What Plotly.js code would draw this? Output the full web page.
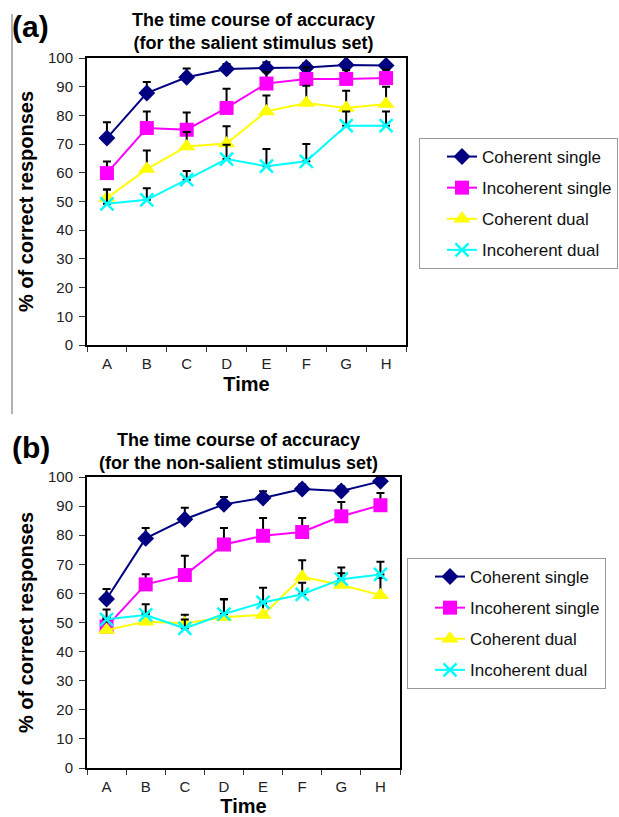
<!DOCTYPE html>
<html><head><meta charset="utf-8">
<script src="https://cdn.plot.ly/plotly-3.0.1.min.js"></script>
<style>html,body{margin:0;padding:0;background:#fff}#chart{width:619px;height:817px}</style>
</head><body><div id="chart"></div>
<script>
const categories = ['A','B','C','D','E','F','G','H'];
const seriesNames = ['Coherent single','Incoherent single','Coherent dual','Incoherent dual'];
// Panel (a): salient stimulus set
const salientCohSingle = [72.1, 87.8, 93.3, 96.2, 96.5, 96.7, 97.6, 97.4];
const salientCohSingleErr = [5.5, 3.8, 3.0, 1.7, 2.0, 1.5, 1.0, 1.0];
const salientIncSingle = [59.9, 75.6, 75.0, 82.6, 91.1, 92.7, 92.7, 93.0];
const salientIncSingleErr = [4.0, 5.8, 6.0, 6.7, 4.0, 4.0, 3.0, 3.0];
const salientCohDual = [51.2, 61.3, 69.2, 70.2, 81.4, 84.3, 82.6, 84.0];
const salientCohDualErr = [3.0, 6.5, 5.0, 6.0, 5.5, 6.0, 6.0, 6.0];
const salientIncDual = [49.2, 50.6, 57.6, 64.8, 62.3, 64.0, 76.4, 76.4];
const salientIncDualErr = [5.0, 4.0, 3.0, 5.0, 6.0, 6.0, 5.0, 5.0];
// Panel (b): non-salient stimulus set
const nonCohSingle = [58.1, 78.9, 85.5, 90.6, 92.8, 95.9, 95.2, 98.5];
const nonCohSingleErr = [3.4, 3.6, 3.9, 2.5, 2.3, 1.5, 1.5, 1.0];
const nonIncSingle = [48.6, 63.1, 66.3, 76.8, 79.8, 81.1, 86.5, 90.3];
const nonIncSingleErr = [3.0, 3.5, 6.6, 5.7, 6.1, 4.8, 4.9, 4.2];
const nonCohDual = [47.4, 50.3, 49.7, 51.8, 52.6, 65.7, 62.9, 59.4];
const nonCohDualErr = [4.0, 3.0, 3.0, 6.3, 4.0, 5.7, 4.0, 6.0];
const nonIncDual = [51.1, 52.6, 48.0, 52.9, 56.9, 59.7, 64.9, 66.5];
const nonIncDualErr = [3.4, 3.7, 3.0, 5.0, 5.0, 4.0, 4.0, 4.4];

const colors = ['#000080', '#FF00FF', '#FFFF00', '#00FFFF'];
const symbols = ['diamond', 'square', 'triangle-up', 'x-thin'];
const sizes = [13, 14, 15, 13];

function mk(i, y, err, xa, ya, leg) {
  const marker = {color: colors[i], symbol: symbols[i], size: sizes[i]};
  if (symbols[i] === 'x-thin') marker.line = {color: colors[i], width: 2.5};
  return {
    x: categories, y: y, name: seriesNames[i], type: 'scatter', mode: 'lines+markers',
    xaxis: xa, yaxis: ya, legend: leg, legendgroup: leg + i,
    line: {color: colors[i], width: 2}, marker: marker,
    error_y: {type: 'data', symmetric: false, array: err, arrayminus: err.map(() => 0),
      color: '#000', thickness: 2, width: 4}
  };
}
const traces = [
  mk(0, salientCohSingle, salientCohSingleErr, 'x', 'y', 'legend'),
  mk(1, salientIncSingle, salientIncSingleErr, 'x', 'y', 'legend'),
  mk(2, salientCohDual, salientCohDualErr, 'x', 'y', 'legend'),
  mk(3, salientIncDual, salientIncDualErr, 'x', 'y', 'legend'),
  mk(0, nonCohSingle, nonCohSingleErr, 'x2', 'y2', 'legend2'),
  mk(1, nonIncSingle, nonIncSingleErr, 'x2', 'y2', 'legend2'),
  mk(2, nonCohDual, nonCohDualErr, 'x2', 'y2', 'legend2'),
  mk(3, nonIncDual, nonIncDualErr, 'x2', 'y2', 'legend2')
];

const F = 'Liberation Sans, Arial, sans-serif';
function xax(dom) {
  return {domain: dom, type: 'category', categoryarray: categories, range: [-0.5, 7.5],
    showline: true, linecolor: '#000', linewidth: 2, mirror: true, ticks: 'outside',
    tickson: 'boundaries', ticklen: 5, tickcolor: '#333', showgrid: false, zeroline: false,
    ticklabelstandoff: 4,
    tickfont: {family: F, size: 15, color: '#222'},
    title: {text: 'Time', font: {family: F, size: 20, color: '#000', weight: 'bold'}, standoff: 6}};
}
function yax(dom) {
  return {domain: dom, range: [0, 100], dtick: 10, showline: true, linecolor: '#000', linewidth: 2,
    mirror: true, ticks: 'outside', ticklen: 6, tickcolor: '#333', showgrid: false, zeroline: false,
    ticklabelstandoff: 3,
    tickfont: {family: F, size: 15, color: '#222'},
    title: {text: '% of correct responses', font: {family: F, size: 20, color: '#000', weight: 'bold'}, standoff: 9}};
}
function leg(x, y) {
  return {x: x, y: y, xanchor: 'left', yanchor: 'top', bordercolor: '#999', borderwidth: 1,
    bgcolor: '#fff', font: {family: F, size: 17, color: '#111'}, traceorder: 'grouped',
    tracegroupgap: 6, entrywidth: 260, indentation: 22, itemclick: false};
}
const layout = {
  width: 619, height: 817, margin: {l: 0, r: 0, t: 0, b: 0, autoexpand: false},
  paper_bgcolor: '#fff', plot_bgcolor: '#fff', showlegend: true,
  xaxis: xax([87/619, 406/619]), yaxis: yax([1 - 345/817, 1 - 58/817]),
  xaxis2: Object.assign(xax([87/619, 400/619]), {anchor: 'y2'}),
  yaxis2: Object.assign(yax([1 - 768/817, 1 - 477/817]), {anchor: 'x2'}),
  legend: leg(419/619, 1 - 138/817),
  legend2: leg(407/619, 1 - 558/817),
  annotations: [
    {text: '(a)', x: 10/619, y: 1 - 27/817, xref: 'paper', yref: 'paper', xanchor: 'left', yanchor: 'middle', showarrow: false, font: {family: F, size: 30, color: '#000', weight: 'bold'}},
    {text: '(b)', x: 10/619, y: 1 - 448/817, xref: 'paper', yref: 'paper', xanchor: 'left', yanchor: 'middle', showarrow: false, font: {family: F, size: 30, color: '#000', weight: 'bold'}},
    {text: 'The time course of accuracy<br>(for the salient stimulus set)', x: 253/619, y: 1 - 32/817, xref: 'paper', yref: 'paper', xanchor: 'center', yanchor: 'middle', showarrow: false, font: {family: F, size: 18, color: '#000', weight: 'bold'}},
    {text: 'The time course of accuracy<br>(for the non-salient stimulus set)', x: 238/619, y: 1 - 451/817, xref: 'paper', yref: 'paper', xanchor: 'center', yanchor: 'middle', showarrow: false, font: {family: F, size: 18, color: '#000', weight: 'bold'}}
  ],
  shapes: [
    {type: 'line', xref: 'paper', yref: 'paper', x0: 12/619, x1: 12/619, y0: 1 - 14/817, y1: 1 - 414/817, line: {color: '#666', width: 1}}
  ]
};
Plotly.newPlot('chart', traces, layout, {displayModeBar: false, staticPlot: true});
</script></body></html>
